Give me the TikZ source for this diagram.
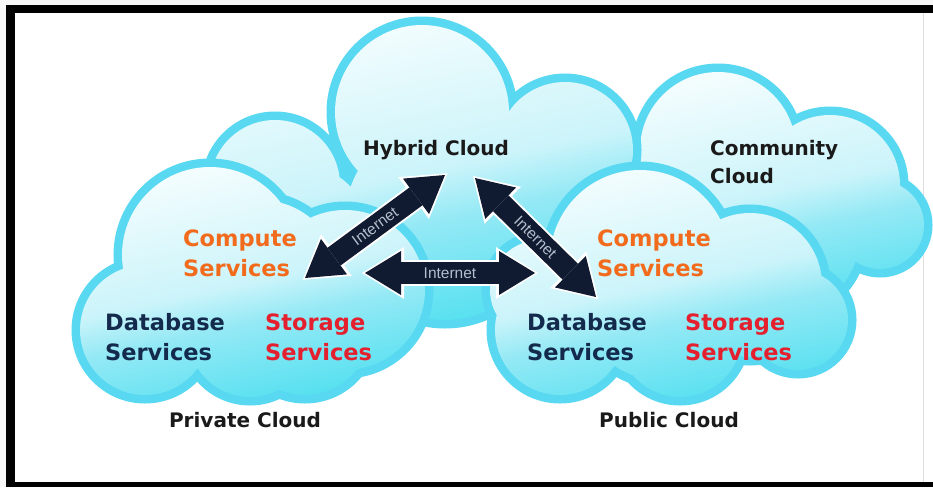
\documentclass[tikz,border=0pt]{standalone}
\usepackage{fontspec}
\setmainfont{DejaVu Sans}
\newfontfamily\netfont{Liberation Sans}
\usetikzlibrary{arrows.meta}
\definecolor{edge}{HTML}{58D8F1}
\definecolor{cT}{HTML}{F4FDFE}
\definecolor{cM1}{HTML}{CBF4FA}
\definecolor{cM2}{HTML}{94E9F5}
\definecolor{cB}{HTML}{55E0F0}
\definecolor{navyarrow}{HTML}{101A30}
\definecolor{orangetxt}{HTML}{F26B1D}
\definecolor{redtxt}{HTML}{E5202E}
\definecolor{dbtxt}{HTML}{142A4C}
\definecolor{labtxt}{HTML}{1A1A1A}
\definecolor{nettxt}{HTML}{B4BECE}
\pgfdeclareverticalshading{cloudsh}{100bp}{color(0bp)=(cB); color(25bp)=(cB); color(42bp)=(cM2); color(50bp)=(cM1); color(75bp)=(cT); color(100bp)=(cT)}
\tikzset{
  cloudedge/.style={draw=edge, line width=17pt},
  cloudfill/.style={shading=cloudsh, shading angle=12},
  svc/.style={font=\bfseries\fontsize{22.5}{30}\selectfont, align=left, inner sep=0pt, anchor=west},
  lab/.style={font=\bfseries\fontsize{20}{28}\selectfont, text=labtxt, inner sep=0pt},
  netarrow/.style={line width=22pt, draw=navyarrow, {Triangle[width=44pt,length=36pt,line width=0pt]}-{Triangle[width=44pt,length=36pt,line width=0pt]}},
  netrim/.style={line width=26pt, draw=white, shorten <=-3pt, shorten >=-3pt, {Triangle[width=52pt,length=42pt,line width=0pt]}-{Triangle[width=52pt,length=42pt,line width=0pt]}},
  nettext/.style={font=\netfont\fontsize{15.5}{16}\selectfont, text=nettxt, inner sep=0pt, sloped}
}
\begin{document}
\begin{tikzpicture}[x=1pt,y=-1pt]
\useasboundingbox (0,0) rectangle (933,487);
% frame
\fill[gray!6] (0,0) rectangle (933,487);
\fill[black] (6,5) rectangle (933,487);
\fill[white] (15,13) rectangle (933,482);
\draw[gray!25, line width=1pt] (923,13) -- (923,482);

% community cloud
\path[cloudedge] (718,150) circle (78pt) (830,185) circle (70pt) (880,225) circle (44pt) (780,235) circle (80pt) (665,195) circle (60pt);
\shade[cloudfill] (718,150) circle (78pt) (830,185) circle (70pt) (880,225) circle (44pt) (780,235) circle (80pt) (665,195) circle (60pt);

% hybrid cloud
\path[cloudedge] (422,112) circle (87pt) (565,150) circle (68pt) (275,185) circle (65pt) (445,220) circle (100pt) (560,220) circle (70pt) (300,235) circle (70pt);
\shade[cloudfill] (422,112) circle (87pt) (565,150) circle (68pt) (275,185) circle (65pt) (445,220) circle (100pt) (560,220) circle (70pt) (300,235) circle (70pt);

% private cloud
\path[cloudedge] (210,255) circle (88pt) (145,330) circle (65pt) (250,335) circle (62pt) (345,290) circle (80pt) (305,330) circle (65pt) (260,280) circle (80pt);
\shade[cloudfill] (210,255) circle (88pt) (145,330) circle (65pt) (250,335) circle (62pt) (345,290) circle (80pt) (305,330) circle (65pt) (260,280) circle (80pt);

% public cloud
\path[cloudedge] (640,260) circle (90pt) (750,285) circle (72pt) (798,320) circle (50pt) (560,330) circle (65pt) (680,335) circle (62pt) (540,290) circle (50pt) (660,300) circle (80pt);
\shade[cloudfill] (640,260) circle (90pt) (750,285) circle (72pt) (798,320) circle (50pt) (560,330) circle (65pt) (680,335) circle (62pt) (540,290) circle (50pt) (660,300) circle (80pt);

% labels
\node[lab, anchor=base] (hyb) at (436,155) {Hybrid Cloud};
\node[lab, align=left, anchor=west] (com) at (710,162) {Community\\Cloud};
\node[lab, anchor=base] (pri) at (245,427) {Private Cloud};
\node[lab, anchor=base] (pub) at (669,427) {Public Cloud};

\node[svc, text=orangetxt] (pcomp) at (183,253) {Compute\\Services};
\node[svc, text=dbtxt] (pdb) at (105,337) {Database\\Services};
\node[svc, text=redtxt] (pst) at (265,337) {Storage\\Services};
\node[svc, text=orangetxt] (ucomp) at (597,253) {Compute\\Services};
\node[svc, text=dbtxt] (udb) at (527,337) {Database\\Services};
\node[svc, text=redtxt] (ust) at (685,337) {Storage\\Services};

% arrows
\coordinate (pl) at (305,278);
\coordinate (hl) at (445,175);
\coordinate (pm) at (365,273);
\coordinate (qm) at (535,273);
\coordinate (hr) at (475,178);
\coordinate (qr) at (596,297);
\draw[netrim] (pl) -- (hl);
\draw[netrim] (pm) -- (qm);
\draw[netrim] (hr) -- (qr);
\draw[netarrow] (pl) -- (hl);
\draw[netarrow] (pm) -- (qm);
\draw[netarrow] (hr) -- (qr);
\path (pl) -- node[nettext] (net1) {Internet} (hl);
\path (pm) -- node[nettext] (net2) {Internet} (qm);
\path (hr) -- node[nettext] (net3) {Internet} (qr);
\end{tikzpicture}
\end{document}
